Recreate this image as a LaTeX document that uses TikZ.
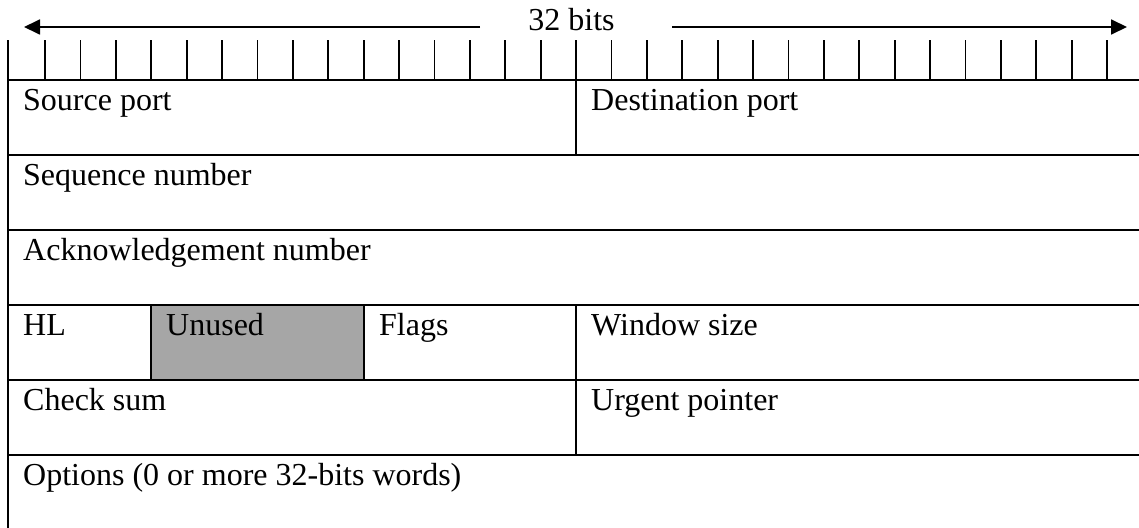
\documentclass[tikz,border=0pt]{standalone}
\usepackage{fontspec}
\setmainfont{Liberation Serif}
\usetikzlibrary{arrows.meta}
\definecolor{unusedgray}{RGB}{166,166,166}
\tikzset{
  grid/.style={line width=1.8pt, line cap=rect},
  lbl/.style={anchor=base west, inner sep=0pt, font=\fontsize{32}{38}\selectfont},
  ttl/.style={anchor=base, inner sep=0pt, font=\fontsize{32}{38}\selectfont},
  dimarrow/.style={line width=1.8pt, -{Triangle[length=16pt,width=15pt]}}
}
\begin{document}
\begin{tikzpicture}[x=1pt,y=-1pt]
\useasboundingbox (0,0) rectangle (1139,527);
\clip (0,0) rectangle (1139,527);
% fill of unused field
\fill[unusedgray] (151,305) rectangle (364,380);
% horizontal lines
\foreach \yy in {80,155,230,305,380,455,530}
  \draw[grid] (8,\yy) -- (1142,\yy);
% outer verticals
\draw[grid] (8,41) -- (8,530);
\draw[grid] (1142,41) -- (1142,530);
% bit ticks
\foreach \k in {1,...,31}
  \draw[grid] ({45+35.4*(\k-1)},41) -- ({45+35.4*(\k-1)},80);
% field dividers
\draw[grid] (576,80) -- (576,155);
\draw[grid] (151,305) -- (151,380);
\draw[grid] (364,305) -- (364,380);
\draw[grid] (576,305) -- (576,455);
% title and arrows
\node[ttl] (title) at (571.5,31) {32 bits};
\coordinate (lstart) at (480,27);
\coordinate (ltip) at (24,27);
\coordinate (rstart) at (672,27);
\coordinate (rtip) at (1127,27);
\draw[dimarrow] (lstart) -- (ltip);
\draw[dimarrow] (rstart) -- (rtip);
% labels
\node[lbl] (srcport) at (23,110) {Source port};
\node[lbl] (dstport) at (591,110) {Destination port};
\node[lbl] (seqnum) at (23,185) {Sequence number};
\node[lbl] (acknum) at (23,260) {Acknowledgement number};
\node[lbl] (hl) at (23,335) {HL};
\node[lbl] (unused) at (166,335) {Unused};
\node[lbl] (flags) at (379,335) {Flags};
\node[lbl] (window) at (591,335) {Window size};
\node[lbl] (checksum) at (23,410) {Check sum};
\node[lbl] (urgent) at (591,410) {Urgent pointer};
\node[lbl] (options) at (23,485) {Options (0 or more 32-bits words)};
\end{tikzpicture}
\end{document}
